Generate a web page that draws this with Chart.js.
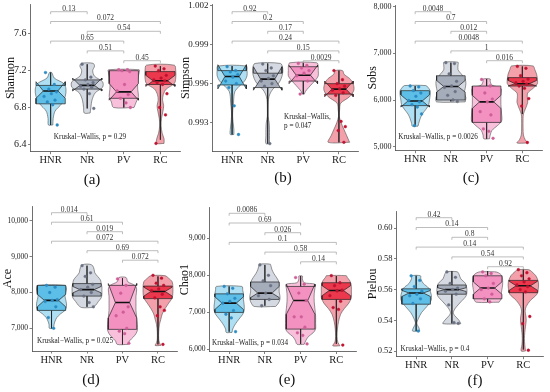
<!DOCTYPE html>
<html>
<head>
<meta charset="utf-8">
<script src="https://cdn.jsdelivr.net/npm/chart.js@4.4.0/dist/chart.umd.min.js"></script>
<style>
  html, body { margin: 0; padding: 0; background: #fff; }
  #fig { position: relative; width: 550px; height: 392px; overflow: hidden; background: #fff; }
  #fig canvas { position: absolute; left: 0; top: 0; }
</style>
</head>
<body>
<div id="fig"></div>
<script>
/* alpha diversity violin + notched box panels */

const groups = ['HNR', 'NR', 'PV', 'RC'];
const pairsFirst = [[0, 1], [0, 3], [1, 3], [0, 2], [1, 2], [2, 3]];
const pairsRest = [[0, 1], [0, 2], [1, 2], [0, 3], [1, 3], [2, 3]];

// box rows: [lower whisker, q1, notch low, median, notch high, q3, upper whisker]
// violin rows: [value, half width in category units], bottom to top

// (a) Shannon
const shannonTicks = [6.4, 6.8, 7.2, 7.6];
const shannonTickLabels = ['6.4', '6.8', '7.2', '7.6'];
const shannonPoints = [
  [7.18, 7.05, 7.0, 6.97, 6.95, 6.92, 6.88, 6.86, 6.83, 6.61],
  [7.27, 7.13, 7.10, 7.07, 7.05, 7.03, 7.02, 7.0, 6.95, 6.79],
  [7.21, 7.21, 7.2, 7.19, 7.05, 6.98, 6.94, 6.9, 6.85, 6.8],
  [7.25, 7.22, 7.2, 7.15, 7.12, 7.1, 7.09, 7.07, 7.05, 6.95, 6.8, 6.72, 6.41]
];
const shannonBoxes = [
  [6.61, 6.84, 6.9, 6.98, 7.08, 7.04, 7.18],
  [6.79, 7.0, 6.98, 7.04, 7.12, 7.1, 7.27],
  [6.8, 6.9, 6.88, 6.97, 7.06, 7.2, 7.21],
  [6.45, 7.05, 7.03, 7.09, 7.15, 7.19, 7.25]
];
const shannonViolins = [
  [[6.61, 0.06], [6.68, 0.07], [6.76, 0.12], [6.84, 0.3], [6.92, 0.4], [7.0, 0.42], [7.06, 0.36], [7.12, 0.1], [7.18, 0.03]],
  [[6.74, 0.08], [6.8, 0.1], [6.88, 0.13], [6.96, 0.22], [7.02, 0.42], [7.08, 0.42], [7.14, 0.2], [7.2, 0.15], [7.25, 0.2], [7.28, 0.16]],
  [[6.8, 0.28], [6.86, 0.34], [6.92, 0.4], [7.0, 0.38], [7.1, 0.38], [7.18, 0.42], [7.21, 0.42]],
  [[6.41, 0.1], [6.46, 0.1], [6.52, 0.05], [6.6, 0.02], [6.68, 0.03], [6.76, 0.07], [6.82, 0.09], [6.88, 0.06], [6.94, 0.08], [7.0, 0.16], [7.06, 0.38], [7.12, 0.42], [7.2, 0.42], [7.26, 0.38]]
];
const shannonPvals = ['0.13', '0.072', '0.54', '0.65', '0.51', '0.45'];
const shannonTest = ['Kruskal\u2212Wallis, p = 0.29'];

// (b) Simpson
const simpsonTicks = [0.993, 0.996, 0.999, 1.002];
const simpsonTickLabels = ['0.993', '0.996', '0.999', '1.002'];
const simpsonPoints = [
  [0.9973, 0.9970, 0.9969, 0.9967, 0.9965, 0.9962, 0.9960, 0.9957, 0.9943, 0.9921],
  [0.9975, 0.9972, 0.9970, 0.9966, 0.9964, 0.9962, 0.9960, 0.9958, 0.9914],
  [0.99755, 0.9974, 0.9972, 0.9970, 0.9968, 0.9966, 0.9962, 0.9952],
  [0.9970, 0.9963, 0.9960, 0.9958, 0.9956, 0.9955, 0.9953, 0.9951, 0.9931, 0.9927, 0.9924, 0.9915]
];
const simpsonBoxes = [
  [0.9921, 0.9959, 0.9956, 0.99655, 0.99745, 0.9970, 0.99735],
  [0.9914, 0.9957, 0.9955, 0.99635, 0.9973, 0.9968, 0.99755],
  [0.9952, 0.9962, 0.9960, 0.99665, 0.9974, 0.9973, 0.9976],
  [0.9915, 0.9952, 0.9950, 0.99558, 0.9962, 0.9960, 0.9970]
];
const simpsonViolins = [
  [[0.9921, 0.05], [0.9925, 0.05], [0.9930, 0.03], [0.9935, 0.015], [0.9940, 0.02], [0.9945, 0.04], [0.9950, 0.05], [0.9954, 0.08], [0.9958, 0.2], [0.9962, 0.35], [0.9966, 0.42], [0.9970, 0.42], [0.99735, 0.4]],
  [[0.9914, 0.05], [0.9920, 0.05], [0.9925, 0.05], [0.9930, 0.04], [0.9935, 0.01], [0.9940, 0.01], [0.9944, 0.012], [0.9948, 0.02], [0.9952, 0.06], [0.9956, 0.15], [0.9960, 0.3], [0.9964, 0.38], [0.9968, 0.42], [0.9972, 0.42], [0.99755, 0.36]],
  [[0.9952, 0.03], [0.9954, 0.06], [0.9957, 0.15], [0.9960, 0.25], [0.9963, 0.35], [0.9966, 0.42], [0.9970, 0.42], [0.9973, 0.42], [0.9976, 0.38]],
  [[0.9915, 0.3], [0.9920, 0.22], [0.9925, 0.14], [0.9930, 0.06], [0.9935, 0.01], [0.9940, 0.02], [0.9945, 0.05], [0.9950, 0.3], [0.9955, 0.42], [0.9960, 0.4], [0.9964, 0.3], [0.9967, 0.15], [0.9970, 0.1]]
];
const simpsonPvals = ['0.92', '0.2', '0.17', '0.24', '0.15', '0.0029'];
const simpsonTest = ['Kruskal\u2212Wallis,', 'p = 0.047'];

// (c) Sobs
const sobsTicks = [5000, 6000, 7000, 8000];
const sobsTickLabels = ['5,000', '6,000', '7,000', '8,000'];
const sobsPoints = [
  [6300, 6280, 6200, 6150, 6080, 5990, 5960, 5900, 5850, 5700, 5450],
  [6800, 6780, 6560, 6400, 6300, 6270, 6180, 6100, 6000, 5970],
  [6440, 6300, 6150, 6020, 5960, 5750, 5680, 5380, 5330, 5180],
  [6720, 6680, 6520, 6450, 6400, 6370, 6340, 6300, 6250, 6030, 5870, 5090]
];
const sobsBoxes = [
  [5450, 5880, 5850, 5980, 6110, 6200, 6300],
  [5970, 6000, 6170, 6290, 6420, 6520, 6800],
  [5170, 5520, 5820, 5960, 6100, 6300, 6450],
  [5700, 6300, 6300, 6350, 6420, 6480, 6720]
];
const sobsViolins = [
  [[5440, 0.08], [5500, 0.1], [5600, 0.14], [5700, 0.2], [5800, 0.3], [5900, 0.38], [6000, 0.4], [6100, 0.42], [6200, 0.42], [6280, 0.35], [6310, 0.3]],
  [[5960, 0.4], [6050, 0.42], [6150, 0.38], [6250, 0.4], [6350, 0.42], [6450, 0.4], [6550, 0.3], [6650, 0.2], [6750, 0.2], [6810, 0.2]],
  [[5170, 0.08], [5250, 0.1], [5350, 0.15], [5450, 0.3], [5550, 0.42], [5700, 0.42], [5900, 0.4], [6100, 0.4], [6250, 0.4], [6320, 0.15], [6400, 0.1], [6450, 0.1]],
  [[5080, 0.15], [5150, 0.08], [5250, 0.03], [5400, 0.02], [5600, 0.02], [5700, 0.03], [5800, 0.08], [5950, 0.15], [6050, 0.14], [6150, 0.15], [6250, 0.3], [6350, 0.42], [6450, 0.42], [6550, 0.4], [6650, 0.35], [6730, 0.3]]
];
const sobsPvals = ['0.0048', '0.7', '0.012', '0.0048', '1', '0.016'];
const sobsTest = ['Kruskal\u2212Wallis, p = 0.0026'];

// (d) Ace
const aceTicks = [7000, 8000, 9000, 10000];
const aceTickLabels = ['7,000', '8,000', '9,000', '10,000'];
const acePoints = [
  [8200, 8150, 8000, 7800, 7780, 7750, 7600, 7300, 7000],
  [8750, 8550, 8450, 8230, 8150, 8080, 8000, 7900, 7720, 7600],
  [8380, 8200, 7980, 7600, 7450, 7350, 7000, 6920, 6850, 6580],
  [8480, 8400, 8260, 8200, 8100, 8050, 7950, 7850, 7600, 7500, 7350, 6550]
];
const aceBoxes = [
  [7000, 7500, 7600, 7780, 7950, 8200, 8200],
  [7600, 7900, 7990, 8080, 8170, 8250, 8750],
  [6550, 6970, 7290, 7720, 8250, 8200, 8400],
  [6550, 7830, 7900, 8030, 8150, 8180, 8450]
];
const aceViolins = [
  [[7000, 0.06], [7100, 0.07], [7200, 0.1], [7300, 0.15], [7400, 0.25], [7500, 0.38], [7600, 0.42], [7700, 0.42], [7800, 0.4], [7900, 0.38], [8000, 0.4], [8100, 0.42], [8200, 0.38]],
  [[7580, 0.15], [7650, 0.25], [7750, 0.32], [7850, 0.4], [7950, 0.42], [8050, 0.42], [8150, 0.42], [8250, 0.4], [8350, 0.38], [8450, 0.3], [8550, 0.22], [8650, 0.2], [8750, 0.16], [8790, 0.08]],
  [[6550, 0.15], [6650, 0.2], [6750, 0.3], [6850, 0.38], [6950, 0.42], [7100, 0.42], [7300, 0.4], [7500, 0.38], [7700, 0.38], [7900, 0.38], [8100, 0.4], [8200, 0.35], [8300, 0.15], [8420, 0.1]],
  [[6520, 0.08], [6600, 0.04], [6700, 0.02], [6900, 0.02], [7100, 0.04], [7250, 0.08], [7400, 0.12], [7550, 0.2], [7700, 0.3], [7850, 0.4], [8000, 0.42], [8150, 0.42], [8300, 0.4], [8400, 0.3], [8470, 0.2]]
];
const acePvals = ['0.014', '0.61', '0.019', '0.072', '0.69', '0.072'];
const aceTest = ['Kruskal\u2212Wallis, p = 0.025'];

// (e) Chao1
const chaoTicks = [6000, 7000, 8000, 9000];
const chaoTickLabels = ['6,000', '7,000', '8,000', '9,000'];
const chaoPoints = [
  [7700, 7650, 7500, 7380, 7300, 7250, 7050, 6950, 6850, 6480],
  [8280, 8000, 7850, 7720, 7520, 7450, 7350, 7180],
  [7940, 7760, 7520, 7320, 6880, 6880, 6600, 6450, 6380, 6150],
  [7990, 7800, 7720, 7600, 7580, 7450, 7300, 7130, 7080, 6120]
];
const chaoBoxes = [
  [6480, 7000, 7080, 7250, 7420, 7500, 7700],
  [7180, 7350, 7400, 7520, 7700, 7820, 8280],
  [6150, 6550, 6950, 7320, 7760, 7700, 7980],
  [6150, 7350, 7450, 7590, 7720, 7800, 7980]
];
const chaoViolins = [
  [[6460, 0.08], [6550, 0.1], [6650, 0.15], [6750, 0.22], [6850, 0.3], [6950, 0.38], [7050, 0.42], [7200, 0.42], [7350, 0.4], [7500, 0.4], [7600, 0.38], [7700, 0.36]],
  [[7160, 0.3], [7250, 0.38], [7350, 0.42], [7450, 0.42], [7550, 0.4], [7650, 0.4], [7750, 0.4], [7850, 0.38], [7950, 0.32], [8050, 0.25], [8150, 0.2], [8250, 0.17], [8300, 0.15]],
  [[6140, 0.1], [6250, 0.15], [6350, 0.22], [6450, 0.35], [6550, 0.42], [6700, 0.42], [6900, 0.42], [7100, 0.4], [7300, 0.38], [7500, 0.38], [7650, 0.4], [7760, 0.4], [7800, 0.1], [7900, 0.05], [7980, 0.05]],
  [[6100, 0.1], [6200, 0.04], [6350, 0.02], [6550, 0.03], [6750, 0.06], [6950, 0.12], [7100, 0.22], [7250, 0.35], [7400, 0.42], [7550, 0.42], [7700, 0.42], [7850, 0.38], [7950, 0.3], [7990, 0.28]]
];
const chaoPvals = ['0.0086', '0.69', '0.026', '0.1', '0.58', '0.14'];
const chaoTest = ['Kruskal\u2212Wallis, p = 0.034'];

// (f) Pielou
const pielouTicks = [0.52, 0.54, 0.56, 0.58, 0.60];
const pielouTickLabels = ['0.52', '0.54', '0.56', '0.58', '0.60'];
const pielouPoints = [
  [0.5690, 0.5660, 0.5620, 0.5590, 0.5570, 0.5560, 0.5540, 0.5510, 0.5330],
  [0.5715, 0.5680, 0.5640, 0.5610, 0.5600, 0.5590, 0.5570, 0.5500, 0.5385, 0.5380],
  [0.5715, 0.5705, 0.5690, 0.5640, 0.5610, 0.5600, 0.5570, 0.5540, 0.5520],
  [0.5730, 0.5710, 0.5690, 0.5670, 0.5650, 0.5630, 0.5620, 0.5600, 0.5585, 0.5425, 0.5378, 0.5205]
];
const pielouBoxes = [
  [0.5330, 0.5505, 0.5555, 0.5578, 0.5595, 0.5605, 0.5690],
  [0.5380, 0.5570, 0.5588, 0.5600, 0.5612, 0.5630, 0.5720],
  [0.5520, 0.5540, 0.5570, 0.5610, 0.5650, 0.5690, 0.5720],
  [0.5210, 0.5580, 0.5595, 0.5625, 0.5655, 0.5660, 0.5730]
];
const pielouViolins = [
  [[0.5330, 0.1], [0.5350, 0.08], [0.5380, 0.02], [0.5410, 0.06], [0.5450, 0.15], [0.5490, 0.3], [0.5530, 0.42], [0.5570, 0.42], [0.5610, 0.35], [0.5640, 0.2], [0.5670, 0.13], [0.5690, 0.12]],
  [[0.5378, 0.25], [0.5400, 0.2], [0.5430, 0.08], [0.5450, 0.04], [0.5480, 0.1], [0.5520, 0.25], [0.5560, 0.4], [0.5600, 0.42], [0.5640, 0.38], [0.5670, 0.25], [0.5700, 0.2], [0.5716, 0.15]],
  [[0.5518, 0.32], [0.5540, 0.38], [0.5570, 0.38], [0.5600, 0.4], [0.5630, 0.42], [0.5660, 0.42], [0.5690, 0.4], [0.5710, 0.3], [0.5716, 0.2]],
  [[0.5200, 0.06], [0.5240, 0.04], [0.5280, 0.03], [0.5320, 0.04], [0.5360, 0.06], [0.5400, 0.08], [0.5430, 0.07], [0.5460, 0.05], [0.5490, 0.08], [0.5530, 0.2], [0.5570, 0.38], [0.5610, 0.42], [0.5650, 0.42], [0.5690, 0.35], [0.5720, 0.22], [0.5730, 0.15]]
];
const pielouPvals = ['0.42', '0.14', '0.8', '0.14', '0.54', '0.92'];
const pielouTest = ['Kruskal\u2212Wallis, p = 0.4'];


const SERIF = '"Liberation Serif", "Times New Roman", serif';
const violinColors = ['#afdff3', '#d5d9e1', '#f8c0da', '#f4a0ab'];
const boxColors = ['rgba(84,186,230,0.9)', 'rgba(160,167,183,0.9)', 'rgba(242,140,190,0.9)', 'rgba(234,44,66,0.9)'];
const pointColors = ['#2b8cc4', '#6b7283', '#cf5d98', '#c01230'];
const jitter = [-0.14, 0.1, -0.05, 0.16, 0.02, -0.18, 0.12, -0.09, 0.06, 0.18, -0.02, 0.14, -0.12];
const BOX_W = 0.4;

// layout of each panel (pixel positions in the 550x392 figure)
const panels = [
  { label: '(a)', title: 'Shannon', points: shannonPoints, boxes: shannonBoxes, violins: shannonViolins,
    ticks: shannonTicks, tickLabels: shannonTickLabels, pairs: pairsFirst, pvals: shannonPvals, test: shannonTest,
    ymin: 6.32, ymax: 7.92, area: { l: 30.5, r: 180.5, t: 3.3, b: 151.7 }, titleX: 10, tickSize: 10,
    labelPos: [92, 180], testPos: [90, 137, 'center'], bracketTop: 11.7, bracketStep: 9.8 },
  { label: '(b)', title: 'Simpson', points: simpsonPoints, boxes: simpsonBoxes, violins: simpsonViolins,
    ticks: simpsonTicks, tickLabels: simpsonTickLabels, pairs: pairsRest, pvals: simpsonPvals, test: simpsonTest,
    ymin: 0.99078, ymax: 1.00208, area: { l: 212.5, r: 358.5, t: 4, b: 151.7 }, titleX: 185, tickSize: 9,
    labelPos: [283, 178.5], testPos: [284, 117, 'left'], bracketTop: 11.7, bracketStep: 9.8 },
  { label: '(c)', title: 'Sobs', points: sobsPoints, boxes: sobsBoxes, violins: sobsViolins,
    ticks: sobsTicks, tickLabels: sobsTickLabels, pairs: pairsRest, pvals: sobsPvals, test: sobsTest,
    ymin: 4914, ymax: 8036, area: { l: 395.5, r: 542, t: 5, b: 150.7 }, titleX: 372.3, tickSize: 8,
    labelPos: [471, 178.5], testPos: [438, 137, 'center'], bracketTop: 11.7, bracketStep: 9.8 },
  { label: '(d)', title: 'Ace', points: acePoints, boxes: aceBoxes, violins: aceViolins,
    ticks: aceTicks, tickLabels: aceTickLabels, pairs: pairsRest, pvals: acePvals, test: aceTest,
    ymin: 6365, ymax: 10419, area: { l: 32, r: 177.5, t: 206, b: 351 }, titleX: 7.3, tickSize: 7.5,
    labelPos: [91, 380], testPos: [75, 341, 'center'], bracketTop: 212.7, bracketStep: 9.5 },
  { label: '(e)', title: 'Chao1', points: chaoPoints, boxes: chaoBoxes, violins: chaoViolins,
    ticks: chaoTicks, tickLabels: chaoTickLabels, pairs: pairsRest, pvals: chaoPvals, test: chaoTest,
    ymin: 5946, ymax: 9823, area: { l: 209.5, r: 356, t: 207.7, b: 351.5 }, titleX: 184, tickSize: 7.5,
    labelPos: [287, 380], testPos: [250, 342.7, 'center'], bracketTop: 213.3, bracketStep: 9.7 },
  { label: '(f)', title: 'Pielou', points: pielouPoints, boxes: pielouBoxes, violins: pielouViolins,
    ticks: pielouTicks, tickLabels: pielouTickLabels, pairs: pairsRest, pvals: pielouPvals, test: pielouTest,
    ymin: 0.5163, ymax: 0.6112, area: { l: 396.5, r: 543, t: 211, b: 356.7 }, titleX: 372.3, tickSize: 8.5,
    labelPos: [475, 381], testPos: [435, 348.7, 'center'], bracketTop: 217.7, bracketStep: 9.8 }
];

function violinShape(g, prof) {
  const right = prof.map(r => ({ x: g + r[1], y: r[0] }));
  const left = prof.slice().reverse().map(r => ({ x: g - r[1], y: r[0] }));
  const pts = right.concat(left);
  pts.push(right[0]);
  return pts;
}

function notchBox(g, b) {
  const [lo, q1, nl, md, nu, q3, hi] = b;
  const w = BOX_W, n = BOX_W / 2;
  return [
    { x: g - w, y: q3 }, { x: g - w, y: nu }, { x: g - n, y: md }, { x: g - w, y: nl }, { x: g - w, y: q1 },
    { x: g + w, y: q1 }, { x: g + w, y: nl }, { x: g + n, y: md }, { x: g + w, y: nu }, { x: g + w, y: q3 },
    { x: g - w, y: q3 }
  ];
}

function buildDatasets(p) {
  const ds = [];
  groups.forEach((name, i) => {
    const g = i + 1;
    const b = p.boxes[i];
    ds.push({ data: violinShape(g, p.violins[i]), order: 5, fill: 'shape', backgroundColor: violinColors[i],
      borderColor: '#505050', borderWidth: 0.6, tension: 0.3, pointRadius: 0 });
    ds.push({ data: [{ x: g, y: b[6] }, { x: g, y: b[5] }], order: 4, borderColor: '#222', borderWidth: 0.7, pointRadius: 0, fill: false });
    ds.push({ data: [{ x: g, y: b[1] }, { x: g, y: b[0] }], order: 4, borderColor: '#222', borderWidth: 0.7, pointRadius: 0, fill: false });
    ds.push({ data: notchBox(g, b), order: 3, fill: 'shape', backgroundColor: boxColors[i],
      borderColor: '#222', borderWidth: 0.7, tension: 0, pointRadius: 0 });
    ds.push({ data: [{ x: g - BOX_W / 2, y: b[3] }, { x: g + BOX_W / 2, y: b[3] }], order: 2,
      borderColor: '#111', borderWidth: 1.6, pointRadius: 0, fill: false });
    ds.push({ data: p.points[i].map((v, k) => ({ x: g + jitter[k % jitter.length], y: v })), order: 1,
      showLine: false, pointRadius: 1.4, pointBackgroundColor: pointColors[i], pointBorderColor: pointColors[i],
      pointBorderWidth: 0.4, fill: false });
  });
  return ds;
}

function annotations(p) {
  return {
    id: 'annot',
    afterDatasetsDraw(chart) {
      const ctx = chart.ctx, x = chart.scales.x;
      ctx.save();
      // comparison brackets
      ctx.font = '7.5px ' + SERIF;
      ctx.textAlign = 'center';
      ctx.textBaseline = 'alphabetic';
      p.pairs.forEach((pr, k) => {
        const yy = p.bracketTop + k * p.bracketStep;
        const x1 = x.getPixelForValue(pr[0] + 1), x2 = x.getPixelForValue(pr[1] + 1);
        ctx.strokeStyle = '#a0a0a0';
        ctx.lineWidth = 0.7;
        ctx.beginPath();
        ctx.moveTo(x1, yy + 2.5); ctx.lineTo(x1, yy); ctx.lineTo(x2, yy); ctx.lineTo(x2, yy + 2.5);
        ctx.stroke();
        ctx.fillStyle = '#333';
        ctx.fillText(p.pvals[k], (x1 + x2) / 2, yy - 1.2);
      });
      // global test
      ctx.font = '7.2px ' + SERIF;
      ctx.textAlign = p.testPos[2];
      ctx.textBaseline = 'middle';
      ctx.fillStyle = '#222';
      p.test.forEach((line, k) => ctx.fillText(line, p.testPos[0], p.testPos[1] + k * 9.5));
      // panel label
      ctx.font = '15px ' + SERIF;
      ctx.textAlign = 'center';
      ctx.fillStyle = '#111';
      ctx.fillText(p.label, p.labelPos[0], p.labelPos[1]);
      ctx.restore();
    }
  };
}

const fig = document.getElementById('fig');

panels.forEach(p => {
  const canvas = document.createElement('canvas');
  canvas.width = 550;
  canvas.height = 392;
  fig.appendChild(canvas);
  const padL = p.titleX - 6.6;
  const axisColor = '#4a4a4a';

  new Chart(canvas, {
    type: 'line',
    data: { datasets: buildDatasets(p) },
    options: {
      responsive: false,
      animation: false,
      events: [],
      layout: { padding: { left: padL, top: p.area.t, right: 550 - p.area.r, bottom: 392 - p.area.b - 24 } },
      plugins: { legend: { display: false }, tooltip: { enabled: false } },
      scales: {
        x: {
          type: 'linear', min: 0.45, max: 4.55,
          afterBuildTicks: a => { a.ticks = [1, 2, 3, 4].map(v => ({ value: v })); },
          afterFit: a => { a.height = 24; a.paddingLeft = 0; a.paddingRight = 0; },
          ticks: { callback: (v, i) => groups[i], autoSkip: false, maxRotation: 0, padding: 0,
            font: { family: SERIF, size: 10.5 }, color: '#222' },
          grid: { drawOnChartArea: false, tickLength: 2.5, color: axisColor, lineWidth: 0.7 },
          border: { color: axisColor, width: 0.8 }
        },
        y: {
          type: 'linear', min: p.ymin, max: p.ymax,
          afterBuildTicks: a => { a.ticks = p.ticks.map(v => ({ value: v })); },
          afterFit: a => { a.width = p.area.l - padL; a.paddingTop = 0; a.paddingBottom = 0; },
          ticks: { callback: (v, i) => p.tickLabels[i], autoSkip: false, padding: 1.5,
            font: { family: SERIF, size: p.tickSize }, color: '#222' },
          grid: { drawOnChartArea: false, tickLength: 2.5, color: axisColor, lineWidth: 0.7 },
          border: { color: axisColor, width: 0.8 },
          title: { display: true, text: p.title, padding: 0, color: '#111', font: { family: SERIF, size: 12 } }
        }
      }
    },
    plugins: [annotations(p)]
  });
});
</script>
</body>
</html>
